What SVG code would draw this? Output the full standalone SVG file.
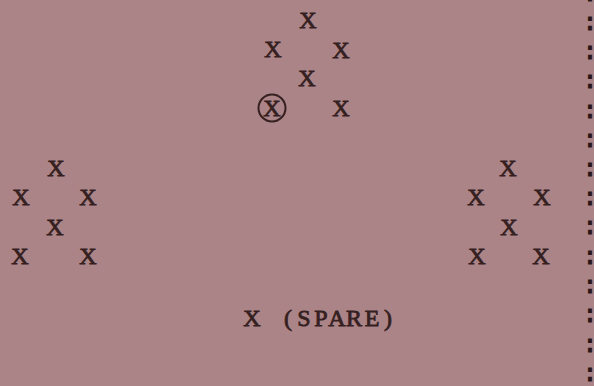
<svg xmlns="http://www.w3.org/2000/svg" width="594" height="386" viewBox="0 0 594 386">
<style>
.t,.s,.c{font-family:"Liberation Serif","Times New Roman",serif;font-size:24px;font-weight:normal;fill:#35201f;stroke:#35201f;stroke-width:0.8px;text-anchor:middle}
.c{font-family:"Liberation Mono",monospace;fill:#2a1618;stroke:#2a1618;stroke-width:1.2px;font-size:24px}
</style>
<rect width="594" height="386" fill="#aa8486"/>
<g id="top-group">
<text class="t" x="308" y="28">X</text>
<text class="t" x="273" y="57">X</text>
<text class="t" x="341" y="58">X</text>
<text class="t" x="307" y="86">X</text>
<g id="circled-x"><text class="t" x="272" y="116">X</text><circle cx="272" cy="108" r="13.5" fill="none" stroke="#35201f" stroke-width="2"/></g>
<text class="t" x="341" y="116">X</text>
</g>
<g id="left-group">
<text class="t" x="56" y="176">X</text>
<text class="t" x="21" y="205">X</text>
<text class="t" x="88" y="205">X</text>
<text class="t" x="55" y="235">X</text>
<text class="t" x="20" y="264">X</text>
<text class="t" x="88" y="264">X</text>
</g>
<g id="right-group">
<text class="t" x="508" y="176">X</text>
<text class="t" x="476" y="205">X</text>
<text class="t" x="542" y="205">X</text>
<text class="t" x="509" y="235">X</text>
<text class="t" x="477" y="264">X</text>
<text class="t" x="541" y="264">X</text>
</g>
<g id="spare">
<text class="s" x="252 269 288 304 321 337 354 372 388" y="326">X (SPARE)</text>
</g>
<g id="colons">
<text class="c" x="590" y="1">:</text>
<text class="c" x="590" y="30">:</text>
<text class="c" x="590" y="59">:</text>
<text class="c" x="590" y="88">:</text>
<text class="c" x="590" y="118">:</text>
<text class="c" x="590" y="147">:</text>
<text class="c" x="590" y="176">:</text>
<text class="c" x="590" y="205">:</text>
<text class="c" x="590" y="234">:</text>
<text class="c" x="590" y="264">:</text>
<text class="c" x="590" y="293">:</text>
<text class="c" x="590" y="322">:</text>
<text class="c" x="590" y="352">:</text>
<text class="c" x="590" y="381">:</text>
</g>
</svg>
